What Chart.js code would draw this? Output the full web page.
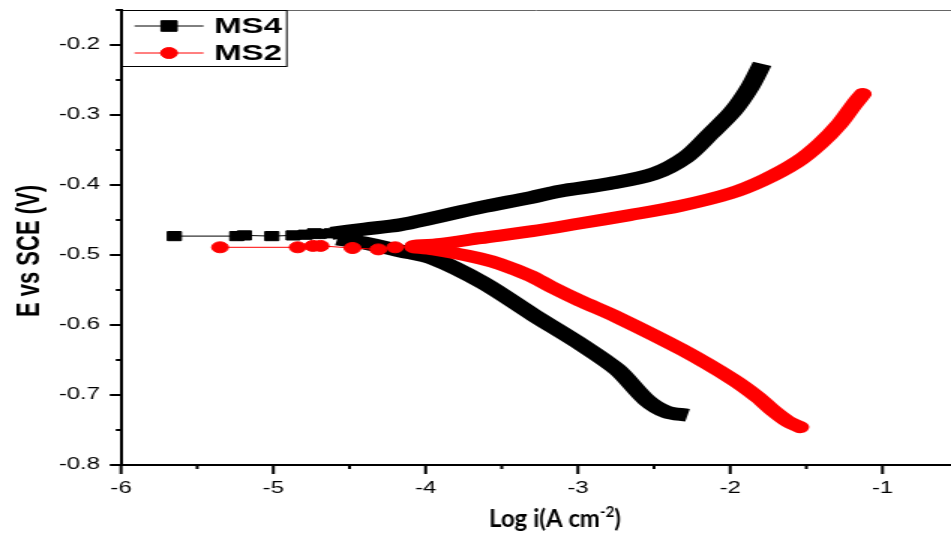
<!DOCTYPE html>
<html>
<head>
<meta charset="utf-8">
<script src="https://cdn.jsdelivr.net/npm/chart.js@4"></script>
<style>
  html, body { margin: 0; padding: 0; background: #fff; overflow: hidden; }
  /* the original figure is stretched sideways, so the chart is drawn narrow and scaled */
  #wrap { width: 634px; height: 533px; transform: scaleX(1.5); transform-origin: 0 0; }
</style>
</head>
<body>
<div id="wrap"><canvas id="myChart" width="634" height="533"></canvas></div>
<script>
const STRETCH = 1.5;

// MS4 (black squares)
const ms4CathodicLogI = [-2.28, -2.42, -2.55, -2.74, -2.97, -3.29, -3.62, -3.95, -4.17, -4.40, -4.58];
const ms4CathodicE = [-0.729, -0.724, -0.707, -0.664, -0.629, -0.586, -0.540, -0.505, -0.494, -0.483, -0.477];
const ms4NearLogI = [-4.62, -4.70, -4.73, -4.79, -4.87, -5.01, -5.19, -5.24, -5.65];
const ms4NearE = [-0.469, -0.470, -0.469, -0.471, -0.472, -0.473, -0.472, -0.473, -0.473];
const ms4AnodicLogI = [-4.62, -4.40, -4.17, -3.95, -3.64, -3.31, -3.12, -2.79, -2.50, -2.29, -2.13, -1.98, -1.87, -1.79];
const ms4AnodicE = [-0.469, -0.463, -0.457, -0.447, -0.432, -0.418, -0.409, -0.398, -0.384, -0.360, -0.327, -0.294, -0.260, -0.227];

// MS2 (red circles)
const ms2CathodicLogI = [-1.54, -1.62, -1.72, -1.82, -1.98, -2.31, -2.74, -2.99, -3.18, -3.31, -3.51, -3.64, -3.84, -3.95, -4.08];
const ms2CathodicE = [-0.746, -0.738, -0.722, -0.703, -0.678, -0.636, -0.589, -0.565, -0.545, -0.530, -0.513, -0.505, -0.496, -0.492, -0.489];
const ms2NearLogI = [-3.91, -3.99, -4.08, -4.20, -4.31, -4.48, -4.69, -4.74, -4.84, -5.35];
const ms2NearE = [-0.489, -0.489, -0.488, -0.489, -0.492, -0.490, -0.487, -0.487, -0.489, -0.489];
const ms2AnodicLogI = [-4.08, -3.90, -3.64, -3.30, -2.99, -2.66, -2.33, -2.00, -1.78, -1.56, -1.41, -1.28, -1.19, -1.13];
const ms2AnodicE = [-0.487, -0.484, -0.476, -0.466, -0.455, -0.443, -0.430, -0.412, -0.393, -0.367, -0.341, -0.312, -0.286, -0.270];

const xTickLabels = [-6, -5, -4, -3, -2, -1];
const yTickLabels = [-0.8, -0.7, -0.6, -0.5, -0.4, -0.3, -0.2];

const pts = (xs, ys) => xs.map((x, i) => ({ x: x, y: ys[i] }));
const band = (x1, y1, x2, y2) => pts(x1, y1).concat([{ x: null, y: null }], pts(x2, y2));

const axesDeco = {
  id: 'axesDeco',
  afterDraw(chart) {
    const ctx = chart.ctx;
    const a = chart.chartArea;
    const xs = chart.scales.x, ys = chart.scales.y;
    ctx.save();
    // top frame line
    ctx.strokeStyle = '#666';
    ctx.lineWidth = 1;
    ctx.beginPath();
    ctx.moveTo(a.left, a.top + 0.5);
    ctx.lineTo(a.right, a.top + 0.5);
    ctx.stroke();

    // tick marks, major and minor
    ctx.strokeStyle = '#000';
    ctx.lineWidth = 2;
    for (let i = 0; i <= 13; i++) {
      const py = ys.getPixelForValue(-0.8 + i * 0.05);
      const len = i % 2 === 0 ? 7.5 : 3.5;
      ctx.beginPath();
      ctx.moveTo(a.left - len, py);
      ctx.lineTo(a.left, py);
      ctx.stroke();
    }
    for (let i = 0; i <= 10; i++) {
      const px = xs.getPixelForValue(-6 + i * 0.5);
      const len = i % 2 === 0 ? 9 : 4;
      ctx.beginPath();
      ctx.moveTo(px, a.bottom);
      ctx.lineTo(px, a.bottom + len);
      ctx.stroke();
    }

    // legend box
    const lx = a.left, ly = a.top, lw = 110, lh = 56;
    ctx.lineWidth = 1;
    ctx.strokeRect(lx + 0.5, ly + 0.5, lw, lh);
    const rows = chart.data.datasets.filter(d => d.inLegend);
    rows.sort((p, q) => p.legendRow - q.legendRow);
    rows.forEach((d, i) => {
      const cy = ly + 16 + i * 27;
      ctx.strokeStyle = d.borderColor;
      ctx.fillStyle = d.backgroundColor;
      ctx.lineWidth = 1;
      ctx.beginPath();
      ctx.moveTo(lx + 9, cy);
      ctx.lineTo(lx + 55, cy);
      ctx.stroke();
      Chart.helpers.drawPoint(ctx, { pointStyle: d.pointStyle, radius: d.legendRadius, rotation: 0, borderWidth: 1 }, lx + 32, cy);
      ctx.fillStyle = '#000';
      ctx.font = 'bold 22px "Liberation Sans", Arial, sans-serif';
      ctx.textAlign = 'left';
      ctx.textBaseline = 'middle';
      ctx.fillText(d.label, lx + 62, cy + 1);
    });

    // y axis title
    ctx.save();
    ctx.translate(19.5, 251);
    ctx.rotate(-Math.PI / 2);
    ctx.fillStyle = '#000';
    ctx.font = 'bold 22px "Liberation Sans", Arial, sans-serif';
    ctx.textAlign = 'center';
    ctx.textBaseline = 'middle';
    ctx.fillText('E vs SCE (V)', 0, 0);
    ctx.restore();

    // x axis title (drawn un-stretched)
    ctx.save();
    ctx.translate(370, 527);
    ctx.scale(1 / STRETCH, 1);
    ctx.fillStyle = '#000';
    ctx.textAlign = 'left';
    ctx.textBaseline = 'alphabetic';
    const big = 'bold 24px Lato, "Liberation Sans", sans-serif';
    const small = 'bold 15px Lato, "Liberation Sans", sans-serif';
    ctx.font = big;
    const w1 = ctx.measureText('Log i(A cm').width;
    const w3 = ctx.measureText(')').width;
    ctx.font = small;
    const w2 = ctx.measureText('-2').width;
    let x0 = -(w1 + w2 + w3) / 2;
    ctx.font = big;
    ctx.fillText('Log i(A cm', x0, 0);
    ctx.font = small;
    ctx.fillText('-2', x0 + w1, -10);
    ctx.font = big;
    ctx.fillText(')', x0 + w1 + w2, 0);
    ctx.restore();

    ctx.restore();
  }
};

new Chart('myChart', {
  type: 'scatter',
  data: {
    datasets: [
      {
        label: 'MS2',
        inLegend: true, legendRow: 1, legendRadius: 5.5,
        data: pts(ms2NearLogI, ms2NearE),
        showLine: true,
        borderColor: '#ff0000',
        backgroundColor: '#ff0000',
        borderWidth: 1,
        pointStyle: 'circle',
        pointRadius: 5.5,
        pointBorderWidth: 1
      },
      {
        label: 'MS2 curve',
        data: band(ms2CathodicLogI, ms2CathodicE, ms2AnodicLogI, ms2AnodicE),
        showLine: true,
        spanGaps: false,
        borderColor: '#ff0000',
        backgroundColor: '#ff0000',
        borderWidth: 12,
        borderCapStyle: 'round',
        borderJoinStyle: 'round',
        tension: 0.3,
        pointRadius: 0
      },
      {
        label: 'MS4',
        inLegend: true, legendRow: 0, legendRadius: 7.5,
        data: pts(ms4NearLogI, ms4NearE),
        showLine: true,
        borderColor: '#000000',
        backgroundColor: '#000000',
        borderWidth: 1,
        pointStyle: 'rect',
        pointRadius: 6.5,
        pointBorderWidth: 1
      },
      {
        label: 'MS4 curve',
        data: band(ms4CathodicLogI, ms4CathodicE, ms4AnodicLogI, ms4AnodicE),
        showLine: true,
        spanGaps: false,
        borderColor: '#000000',
        backgroundColor: '#000000',
        borderWidth: 13,
        borderCapStyle: 'butt',
        borderJoinStyle: 'round',
        tension: 0.3,
        pointRadius: 0
      }
    ]
  },
  options: {
    responsive: false,
    animation: false,
    events: [],
    layout: { autoPadding: false, padding: { top: 10, right: 0, left: 0, bottom: 0 } },
    plugins: { legend: { display: false }, tooltip: { enabled: false } },
    scales: {
      x: {
        type: 'linear',
        min: -6,
        max: -0.55,
        afterFit: (s) => { s.height = 68; s.paddingLeft = 0; s.paddingRight = 0; },
        grid: { display: true, drawOnChartArea: false, drawTicks: false },
        border: { display: true, color: '#000', width: 2 },
        ticks: {
          stepSize: 0.5,
          includeBounds: false,
          autoSkip: false,
          maxRotation: 0,
          padding: 14,
          color: '#000',
          font: { family: '"Liberation Sans", Arial, sans-serif', size: 16 },
          callback: (v) => xTickLabels.some(t => Math.abs(t - v) < 1e-6) ? String(Math.round(v)) : ''
        }
      },
      y: {
        type: 'linear',
        min: -0.8,
        max: -0.15,
        afterFit: (s) => { s.width = 80.7; s.paddingTop = 0; s.paddingBottom = 0; },
        grid: { display: true, drawOnChartArea: false, drawTicks: false },
        border: { display: true, color: '#000', width: 2 },
        ticks: {
          stepSize: 0.05,
          autoSkip: false,
          padding: 14,
          color: '#000',
          font: { family: '"Liberation Sans", Arial, sans-serif', size: 16 },
          callback: (v) => yTickLabels.some(t => Math.abs(t - v) < 1e-6) ? v.toFixed(1) : ''
        }
      }
    }
  },
  plugins: [axesDeco]
});
</script>
</body>
</html>
